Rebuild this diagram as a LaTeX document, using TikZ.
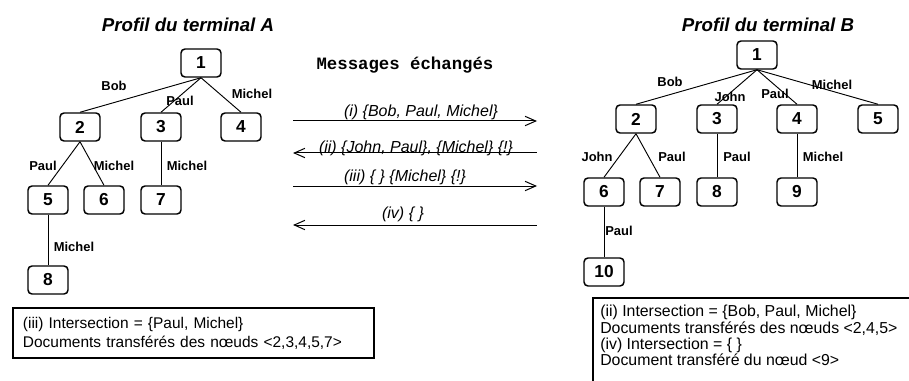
\documentclass[tikz,border=0pt]{standalone}
\usepackage{fontspec}
\setmainfont{Liberation Sans}
\setmonofont{Liberation Mono}
\usetikzlibrary{arrows.meta, positioning}
\tikzset{tree-node/.style = {
	rectangle, draw,
	line width=1.1pt, rounded corners=3pt,
	minimum width=30pt, minimum height=21pt, inner sep=0pt,
	font=\fontsize{13}{15}\selectfont\bfseries
	}}
\tikzset{branch/.style = {line width=0.7pt}}
\tikzset{branch-label/.style = {inner sep=1pt, font=\fontsize{9.7}{11}\selectfont\bfseries}}
\tikzset{title/.style = {font=\fontsize{14}{16}\selectfont\bfseries\itshape}}
\tikzset{msg/.style = {line width=0.75pt, >={Straight Barb[length=8pt, width=7pt]}}}
\tikzset{msg-label/.style = {inner sep=1pt, font=\fontsize{12}{14}\selectfont\itshape}}
\tikzset{info-box/.style = {
	rectangle, draw, line width=1.4pt,
	align=left, inner xsep=7.5pt, inner ysep=0pt,
	text width=255.75pt, minimum height=37.5pt
	}}

\begin{document}
\begin{tikzpicture}[x=0.75pt, y=-0.75pt]
\useasboundingbox (0,0) rectangle (909,381);

	% Terminal A
	\node[title] (titreA) at (188,25) {Profil du terminal A};
	\foreach \n/\x/\y in {1/201/63, 2/80/127, 3/161/127, 4/241/127,
	                      5/48/200, 6/104/200, 7/161/200, 8/48/280}
	    \node[tree-node] (a\n) at (\x,\y) {\n};
	\foreach \p/\c in {1/2, 1/3, 1/4, 2/5, 2/6, 3/7, 5/8}
	    \draw[branch] (a\p.south) -- (a\c.north);
	\foreach \t/\x/\y [count=\i] in {Bob/114/86, Paul/180/101, Michel/252/94,
	                      Paul/43/166, Michel/114/166, Michel/187/166, Michel/74/247}
	    \node[branch-label] (la\i) at (\x,\y) {\t};

	% Terminal B
	\node[title] (titreB) at (768,25) {Profil du terminal B};
	\foreach \n/\x/\y in {1/757/55, 2/636/119, 3/717/119, 4/797/119, 5/878/119,
	                      6/604/192, 7/660/192, 8/717/192, 9/797/192, 10/604/272}
	    \node[tree-node] (b\n) at (\x,\y) {\n};
	\foreach \p/\c in {1/2, 1/3, 1/4, 1/5, 2/6, 2/7, 3/8, 4/9, 6/10}
	    \draw[branch] (b\p.south) -- (b\c.north);
	\foreach \t/\x/\y [count=\i] in {Bob/670/82, John/730/97, Paul/775/94, Michel/832/85,
	                      John/597/157, Paul/672/157, Paul/737/157, Michel/823/157, Paul/619/231}
	    \node[branch-label] (lb\i) at (\x,\y) {\t};

	% Messages
	\node[font=\fontsize{13}{15}\selectfont\ttfamily\bfseries] (echanges) at (405,65) {Messages échangés};
	\foreach \y [count=\i] in {121, 153, 186, 225} {
	    \coordinate (m\i g) at (293,\y);
	    \coordinate (m\i d) at (537,\y);
	}
	\draw[msg, ->] (m1g) -- (m1d);
	\draw[msg, <-] (m2g) -- (m2d);
	\draw[msg, ->] (m3g) -- (m3d);
	\draw[msg, <-] (m4g) -- (m4d);
	\node[msg-label] (msg1) at (421,112) {(i) \{Bob, Paul, Michel\}};
	\node[msg-label] (msg2) at (416,148) {(ii) \{John, Paul\}, \{Michel\} \{!\}};
	\node[msg-label] (msg3) at (405,177) {(iii) \{ \} \{Michel\} \{!\}};
	\node[msg-label] (msg4) at (403,214) {(iv) \{ \}};

	% Bilans
	\node[info-box, anchor=north west, font=\fontsize{11.6}{14.25}\selectfont] (bilanA) at (12,307)
	    {(iii) Intersection = \{Paul, Michel\}\\
	     Documents transférés des nœuds <2,3,4,5,7>};
	\draw[line width=1.4pt] (593,400) -- (593,298) -- (930,298);
	\node[anchor=north west, align=left, inner sep=0pt, font=\fontsize{11.9}{12.2}\selectfont] (bilanB) at (600,305)
	    {(ii) Intersection = \{Bob, Paul, Michel\}\\
	     Documents transférés des nœuds <2,4,5>\\
	     (iv) Intersection = \{ \}\\
	     Document transféré du nœud <9>};

\end{tikzpicture}
\end{document}
